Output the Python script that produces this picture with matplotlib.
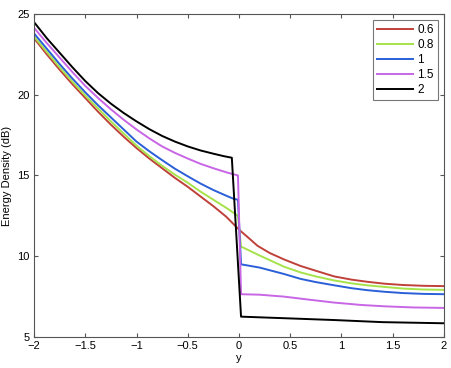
import matplotlib
matplotlib.use("Agg")
import matplotlib.pyplot as plt

plt.rcParams['font.family'] = ['Liberation Sans', 'DejaVu Sans']

labels = ["0.6", "0.8", "1", "1.5", "2"]
colors = ["#c0403a", "#a6e24a", "#2a5fd8", "#c866e6", "#000000"]

x_red = [-2, -1.875, -1.75, -1.625, -1.5, -1.375, -1.25, -1.125, -1, -0.875, -0.75, -0.625, -0.5,
         -0.375, -0.25, -0.125, 0, 0.1, 0.18, 0.3, 0.44, 0.6, 0.75, 0.93, 1.1, 1.25, 1.42, 1.6, 1.8, 2]
y_red = [23.5, 22.5, 21.55, 20.65, 19.8, 18.95, 18.15, 17.4, 16.7, 16.05, 15.45, 14.85, 14.3,
         13.7, 13.1, 12.45, 11.65, 11.1, 10.65, 10.2, 9.8, 9.4, 9.1, 8.75, 8.55, 8.42, 8.3, 8.22, 8.17, 8.15]

x_green = [-2, -1.875, -1.75, -1.625, -1.5, -1.375, -1.25, -1.125, -1, -0.875, -0.75, -0.625, -0.5,
           -0.375, -0.25, -0.125, -0.01, 0.02, 0.2, 0.44, 0.6, 0.75, 0.93, 1.1, 1.25, 1.42, 1.6, 1.8, 2]
y_green = [23.6, 22.65, 21.7, 20.8, 19.95, 19.15, 18.35, 17.6, 16.85, 16.2, 15.6, 15.05, 14.55,
           14.0, 13.5, 13.0, 12.5, 10.6, 10.05, 9.35, 9.0, 8.75, 8.5, 8.32, 8.2, 8.1, 8.0, 7.94, 7.92]

x_blue = [-2, -1.875, -1.75, -1.625, -1.5, -1.375, -1.25, -1.125, -1, -0.875, -0.75, -0.625, -0.5,
          -0.375, -0.25, -0.125, -0.05, -0.01, 0.02, 0.2, 0.44, 0.6, 0.75, 0.93, 1.1, 1.25, 1.42, 1.6, 1.8, 2]
y_blue = [23.8, 22.85, 21.9, 21.0, 20.15, 19.35, 18.6, 17.85, 17.1, 16.5, 15.95, 15.42, 14.95,
          14.5, 14.1, 13.75, 13.55, 13.5, 9.5, 9.3, 8.9, 8.6, 8.4, 8.2, 8.02, 7.9, 7.8, 7.72, 7.67, 7.65]

x_purple = [-2, -1.875, -1.75, -1.625, -1.5, -1.375, -1.25, -1.125, -1, -0.875, -0.75, -0.625, -0.5,
            -0.375, -0.25, -0.125, -0.01, 0.02, 0.2, 0.44, 0.7, 0.93, 1.2, 1.42, 1.7, 2]
y_purple = [24.15, 23.2, 22.3, 21.4, 20.55, 19.8, 19.1, 18.45, 17.85, 17.3, 16.8, 16.4, 16.05,
            15.72, 15.45, 15.2, 15.0, 7.65, 7.62, 7.5, 7.3, 7.13, 6.98, 6.9, 6.83, 6.8]

x_black = [-2, -1.875, -1.75, -1.625, -1.5, -1.375, -1.25, -1.125, -1, -0.875, -0.75, -0.625, -0.5,
           -0.375, -0.25, -0.15, -0.07, 0.02, 0.5, 0.93, 1.4, 2]
y_black = [24.5, 23.5, 22.6, 21.7, 20.85, 20.1, 19.45, 18.87, 18.35, 17.87, 17.45, 17.1, 16.8,
           16.55, 16.35, 16.2, 16.1, 6.26, 6.15, 6.05, 5.92, 5.85]

series = [(x_red, y_red), (x_green, y_green), (x_blue, y_blue), (x_purple, y_purple), (x_black, y_black)]

fig = plt.figure(figsize=(4.52, 3.68), dpi=100)
ax = fig.add_axes([34/452, 31/368, 410/452, 323/368])
for (xs, ys), c, lab in zip(series, colors, labels):
    ax.plot(xs, ys, color=c, lw=1.4, label=lab)

ax.set_xlim(-2, 2)
ax.set_ylim(5, 25)
ax.set_xticks([-2, -1.5, -1, -0.5, 0, 0.5, 1, 1.5, 2])
ax.set_xticklabels(["\u22122", "\u22121.5", "\u22121", "\u22120.5", "0", "0.5", "1", "1.5", "2"])
ax.set_yticks([5, 10, 15, 20, 25])
ax.tick_params(direction='in', top=True, right=True, labelsize=8, length=3, color='#555555', pad=3)
for s in ax.spines.values():
    s.set_color('#555555')
    s.set_linewidth(0.8)
ax.set_xlabel("y", fontsize=8, labelpad=1)
ax.set_ylabel("Energy Density (dB)", fontsize=8, labelpad=4)
leg = ax.legend(loc='upper right', fontsize=8.5, frameon=True, fancybox=False, handlelength=3.1,
                borderaxespad=0.5, labelspacing=0.25, handletextpad=0.35, borderpad=0.35)
leg.get_frame().set_edgecolor('#555555')
leg.get_frame().set_linewidth(0.8)
fig.savefig("out.png", dpi=100)
